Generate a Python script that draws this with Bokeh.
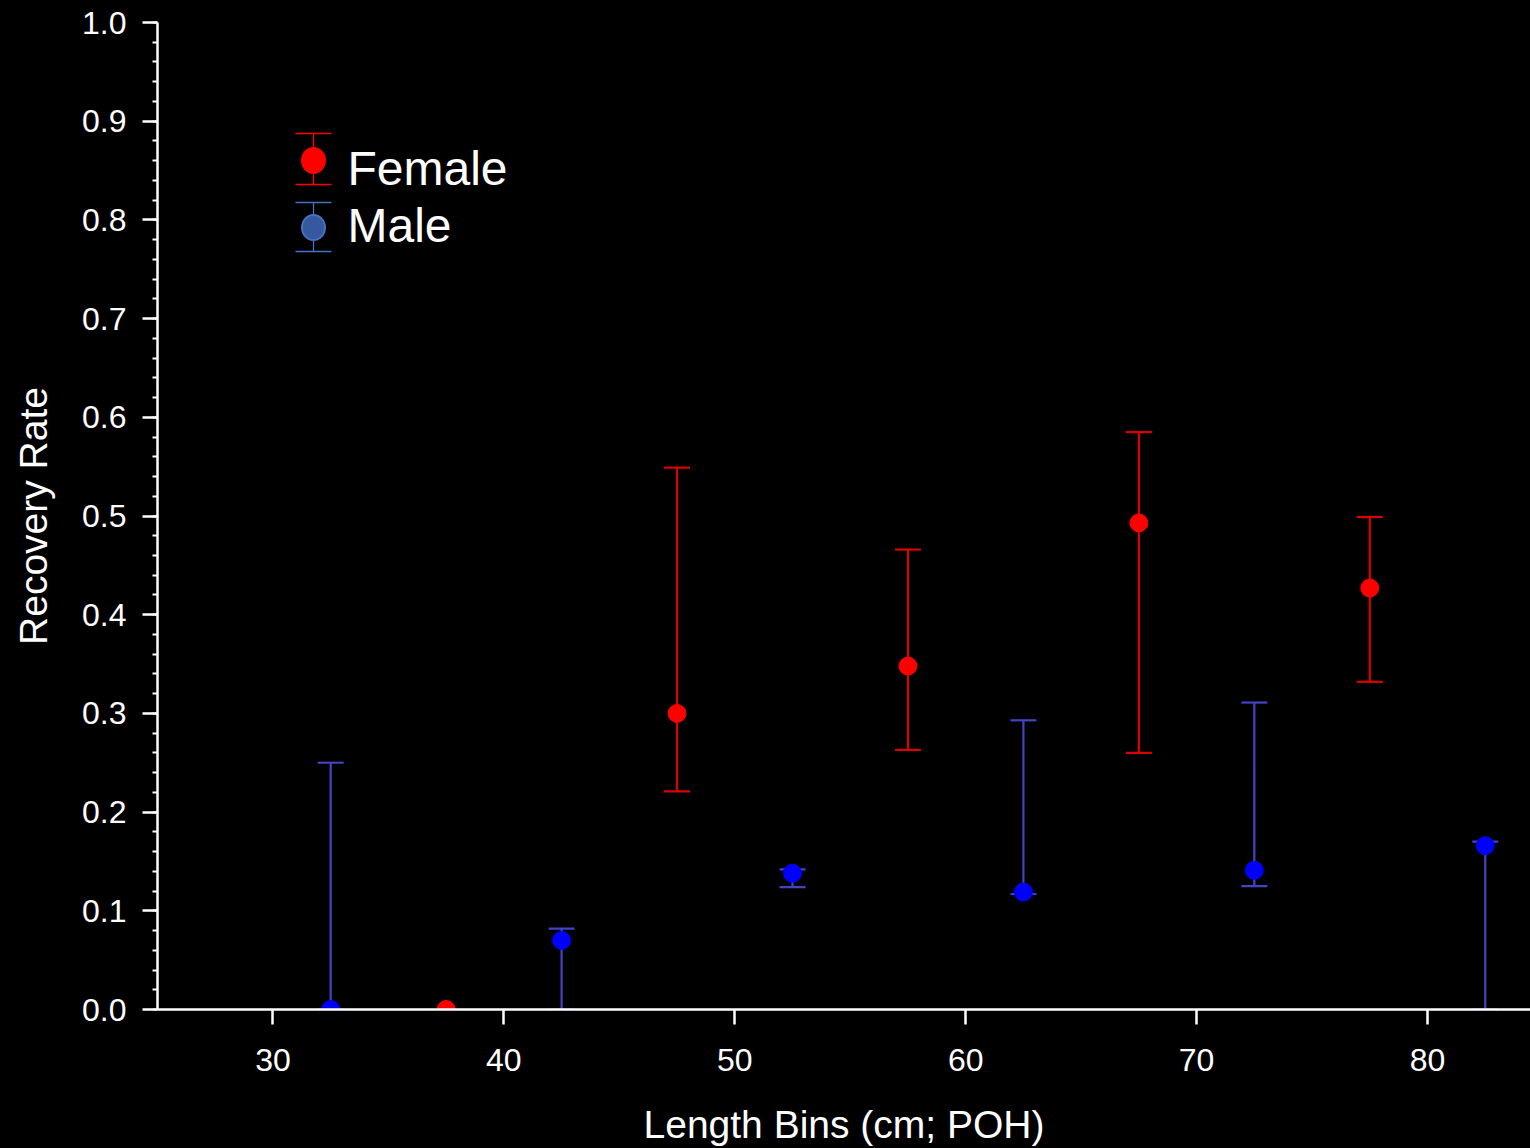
import numpy as np
from bokeh.plotting import figure
from bokeh.models import Range1d, FixedTicker, PrintfTickFormatter, Title
from bokeh.core.properties import value
from bokeh.embed import file_html
from bokeh.resources import INLINE

# ---- data ----
female_bins = [37.5, 47.5, 57.5, 67.5, 77.5]
female_rate = [0.0, 0.300, 0.348, 0.493, 0.427]
female_lo = [np.nan, 0.221, 0.263, 0.260, 0.332]
female_hi = [np.nan, 0.549, 0.466, 0.585, 0.499]

male_bins = [32.5, 42.5, 52.5, 62.5, 72.5, 82.5]
male_rate = [0.0, 0.070, 0.138, 0.119, 0.141, 0.166]
male_lo = [0.0, 0.0, 0.124, 0.117, 0.125, 0.0]
male_hi = [0.250, 0.082, 0.142, 0.293, 0.311, 0.170]

x_ticks = [30, 40, 50, 60, 70, 80]
series_names = ["Female", "Male"]
x_title = "Length Bins (cm; POH)"
y_title = "Recovery Rate"

FONT = "Liberation Sans"
W, H = 1530, 1148
X0, X1 = 25.0, 84.46
Y0, Y1 = 0.0, 1.0

p = figure(width=W, height=H, output_backend="svg", toolbar_location=None,
           x_range=Range1d(X0, X1), y_range=Range1d(Y0, Y1),
           background_fill_color="black", border_fill_color="black",
           min_border_left=157, min_border_right=0, min_border_top=22,
           min_border_bottom=139, outline_line_color=None)
p.outline_line_alpha = 0
p.styles = {"background-color": "black"}
p.grid.visible = False

for ax in (p.xaxis[0], p.yaxis[0]):
    ax.axis_line_color = "white"
    ax.axis_line_width = 2.5
    ax.major_tick_line_color = "white"
    ax.major_tick_line_width = 2.5
    ax.major_tick_in = 0
    ax.major_tick_out = 15
    ax.major_label_text_color = "white"
    ax.major_label_text_font = FONT
    ax.major_label_text_font_size = "32px"
    ax.axis_label_text_color = "white"
    ax.axis_label_text_font = FONT
    ax.axis_label_text_font_size = "39px"
    ax.axis_label_text_font_style = "normal"

p.xaxis.ticker = FixedTicker(ticks=x_ticks)
p.xaxis.minor_tick_line_color = None
p.xaxis.major_label_standoff = 24

p.yaxis.ticker.desired_num_ticks = 10
p.yaxis.formatter = PrintfTickFormatter(format="%.1f")
p.yaxis.minor_tick_line_color = "white"
p.yaxis.minor_tick_line_width = 2
p.yaxis.minor_tick_in = 0
p.yaxis.minor_tick_out = 5
p.yaxis.major_label_standoff = 16
p.yaxis.axis_label = y_title
p.yaxis.axis_label_standoff = 24

# spacer + x-axis title as title panels below the axis
p.add_layout(Title(text=" ", text_font_size="22px", standoff=0,
                   text_color="black"), "below")
p.add_layout(Title(text=x_title, align="center", text_color="white",
                   text_font=FONT, text_font_size="39px",
                   text_font_style="normal", standoff=0), "below")

RED_BAR = "#dd0000"
RED = "#ff0000"
BLUE_BAR = "#4343c8"
BLUE = "#0000ff"

# error bars
p.segment(x0=female_bins, x1=female_bins, y0=female_lo, y1=female_hi,
          line_color=RED_BAR, line_width=2.2)
p.scatter(x=female_bins + female_bins, y=female_lo + female_hi, marker="dash",
          size=26, line_color=RED_BAR, line_width=2.2)
p.segment(x0=male_bins, x1=male_bins, y0=male_lo, y1=male_hi,
          line_color=BLUE_BAR, line_width=2.2)
p.scatter(x=male_bins + male_bins, y=male_lo + male_hi, marker="dash",
          size=26, line_color=BLUE_BAR, line_width=2.2)

# points
p.scatter(x=female_bins, y=female_rate, size=18, fill_color=RED, line_color=RED)
p.scatter(x=male_bins, y=male_rate, size=18, fill_color=BLUE, line_color=BLUE)

# ---- helpers: frame pixel -> data ----
def fx(px):
    return X0 + (px - 157) / (1530 - 157) * (X1 - X0)

def fy(py):
    return Y0 + (1009 - py) / (1009 - 22) * (Y1 - Y0)

# ---- legend ----
leg = [
    dict(name=series_names[0], cy=160, top=133, bot=184, base=168,
         bar=RED, fill=RED, edge=RED),
    dict(name=series_names[1], cy=227, top=202, bot=251, base=225,
         bar="#4472c4", fill="#35589e", edge="#4472c4"),
]
for it in leg:
    gx = fx(313)
    p.segment(x0=[gx], x1=[gx], y0=[fy(it["top"])], y1=[fy(it["bot"])],
              line_color=it["bar"], line_width=1.3)
    p.segment(x0=[fx(295), fx(295)], x1=[fx(331), fx(331)],
              y0=[fy(it["top"]), fy(it["bot"])], y1=[fy(it["top"]), fy(it["bot"])],
              line_color=it["bar"], line_width=1.3)
    p.ellipse(x=[gx], y=[fy(it["cy"])], width=23, height=25, width_units="screen",
              height_units="screen", fill_color=it["fill"], line_color=it["edge"],
              line_width=2)
    p.text(x=[fx(347)], y=[fy(it["base"])], text=[it["name"]],
           text_font=value(FONT), text_font_size="48px", text_color="white",
           text_baseline="alphabetic", text_align="left")

html = file_html(p, INLINE)
html = html.replace("<body>", '<body style="margin:0;background:black;">', 1)
open("out.html", "w").write(html)
